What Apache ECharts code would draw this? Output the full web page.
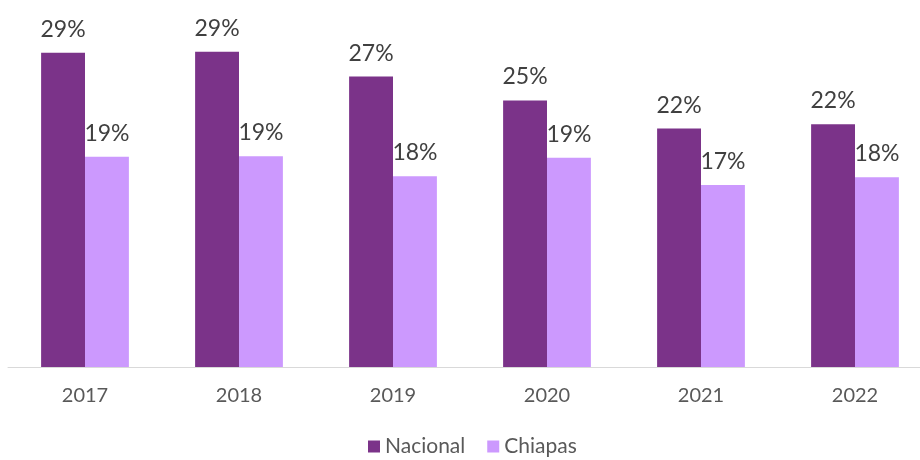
<!DOCTYPE html>
<html>
<head>
<meta charset="utf-8">
<script src="https://cdn.jsdelivr.net/npm/echarts@6/dist/echarts.min.js"></script>
<style>
  html, body { margin: 0; padding: 0; background: #fff; overflow: hidden; }
  #chart { width: 932px; height: 460px; }
</style>
</head>
<body>
<div id="chart"></div>
<script>
// años y porcentajes
const years = ['2017', '2018', '2019', '2020', '2021', '2022'];
const nacional = [29.0, 29.1, 26.8, 24.6, 22.0, 22.4];
const chiapas = [19.4, 19.45, 17.6, 19.3, 16.8, 17.5];

const labelStyle = {
  show: true,
  position: 'top',
  distance: 12,
  fontFamily: 'Lato',
  fontSize: 23,
  color: '#404040',
  formatter: (p) => Math.round(p.value) + '%'
};

// el eje se sale un poco del borde derecho en el original
const myChart = echarts.init(document.getElementById('chart'));
myChart.setOption({
  animation: false,
  textStyle: { fontFamily: 'Lato' },
  grid: { left: 8, right: 0, top: 4, bottom: 93, containLabel: false },
  xAxis: {
    type: 'category',
    data: years,
    axisLine: { lineStyle: { color: '#d9d9d9', width: 1 } },
    axisTick: { show: false },
    axisLabel: { fontSize: 20, color: '#595959', margin: 19 }
  },
  yAxis: {
    type: 'value',
    min: 0,
    max: 33.5,
    show: false
  },
  legend: {
    bottom: -2,
    left: 363,
    icon: 'rect',
    itemWidth: 12,
    itemHeight: 12,
    itemGap: 22,
    textStyle: { fontSize: 21, color: '#595959', fontFamily: 'Lato' },
    data: ['Nacional', 'Chiapas']
  },
  series: [
    {
      name: 'Nacional',
      type: 'bar',
      data: nacional,
      barGap: '0%',
      barCategoryGap: '43%',
      itemStyle: { color: '#7b3389' },
      label: labelStyle
    },
    {
      name: 'Chiapas',
      type: 'bar',
      data: chiapas,
      itemStyle: { color: '#cc99fe' },
      label: labelStyle
    }
  ]
});
</script>
</body>
</html>
